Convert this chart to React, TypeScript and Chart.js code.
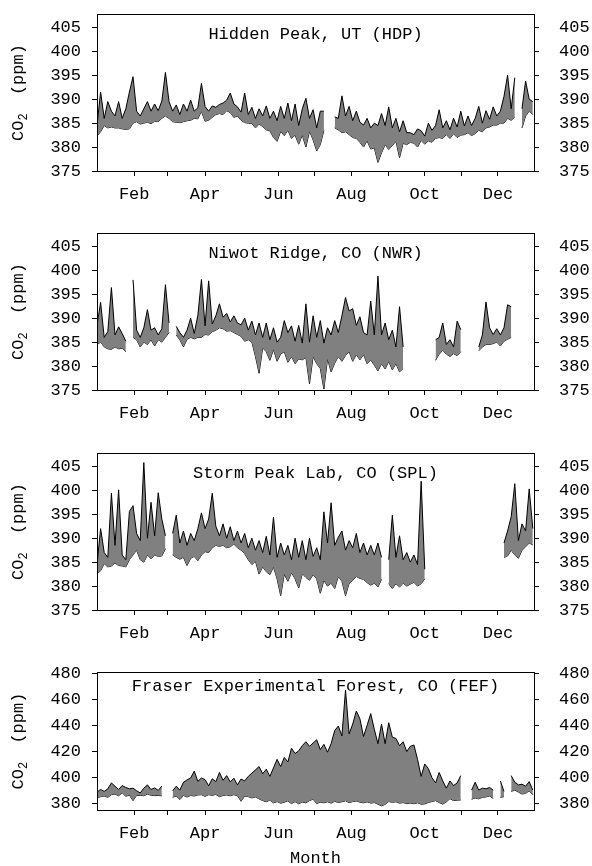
import React, { useEffect, useRef } from 'react';
import { Chart, registerables } from 'chart.js';

Chart.register(...registerables);

// ---- data (day of year, every 3 days) ----
const DAYS = [
  0, 3, 6, 9, 12, 15, 18, 21, 24, 27,
  30, 33, 36, 39, 42, 45, 48, 51, 54, 57,
  60, 63, 66, 69, 72, 75, 78, 81, 84, 87,
  90, 93, 96, 99, 102, 105, 108, 111, 114, 117,
  120, 123, 126, 129, 132, 135, 138, 141, 144, 147,
  150, 153, 156, 159, 162, 165, 168, 171, 174, 177,
  180, 183, 186, 189, 192, 195, 198, 201, 204, 207,
  210, 213, 216, 219, 222, 225, 228, 231, 234, 237,
  240, 243, 246, 249, 252, 255, 258, 261, 264, 267,
  270, 273, 276, 279, 282, 285, 288, 291, 294, 297,
  300, 303, 306, 309, 312, 315, 318, 321, 324, 327,
  330, 333, 336, 339, 342, 345, 348, 351, 354, 357,
  360, 363,
];

const MONTH_STARTS = [31, 59, 90, 120, 151, 181, 212, 243, 273, 304, 334];
const MONTH_LABELS = ['Feb', '', 'Apr', '', 'Jun', '', 'Aug', '', 'Oct', '', 'Dec'];

const HDP_MAX = [
  384.5, 391.5, 386, 389.5, 387.5, 386.5, 389.5, 386, 388, 391.5,
  394.7, 387.5, 386.5, 388, 389.5, 387.5, 389, 387.6, 389.6, 395.6,
  389.5, 387.5, 388.8, 386.8, 389, 387.5, 389.8, 387.5, 388.2, 393.3,
  388.5, 387.5, 388.6, 388.3, 388.9, 389.2, 389.8, 391.3, 389, 388.4,
  387.3, 391.3, 386.8, 388.3, 386, 388, 386.5, 388.6, 386, 387.5,
  385.5, 388.5, 386, 389.2, 385.5, 389, 384.5, 388, 390.2, 386,
  387.8, 384, 387.5, 387.5, null, null, 386.3, 386, 390.7, 386.5,
  388.5, 385.5, 387.5, 385.2, 384.6, 386, 384, 385, 384.5, 387,
  384.5, 388.4, 384, 386, 383.2, 385.5, 383, 383, 382.6, 383.8,
  383.4, 382.3, 385, 383.5, 384.5, 387.8, 384, 385.5, 383.6, 386,
  384.2, 387.5, 384.4, 386.5, 384.5, 386, 388.5, 385, 387.6, 385.8,
  388.4, 386.5, 387.5, 390.6, 395, 388, 394.5, null, 388, 393.8,
  390, 389.5,
];
const HDP_MIN = [
  382.3, 383.2, 384.5, 384, 384.2, 384, 384, 383.8, 383.7, 383.8,
  385, 385.3, 384.8, 385, 385.2, 384.9, 385.4, 385.3, 386, 386.5,
  386, 385.3, 385.2, 385.1, 385.3, 385.5, 385.6, 386, 385.9, 387.5,
  385.4, 385.6, 386.2, 386.8, 387, 386.8, 387.6, 387.2, 386.2, 386.5,
  385.6, 385.1, 385, 384.9, 384, 384.8, 384.3, 383.6, 383.4, 382,
  381.2, 383.3, 382.4, 383.5, 381.8, 382.5, 380.6, 382.5, 380, 383.3,
  381.5, 379.2, 380.5, 383.5, null, null, 384, 383.6, 383, 383.2,
  382.6, 382, 381.8, 381, 380, 381.3, 379.6, 379.8, 376.8, 378.8,
  380.5, 379.5, 380.3, 381.2, 377.8, 380.8, 380.5, 381, 380.8, 380,
  381.4, 380.6, 381.3, 381, 381.8, 382, 381.8, 382.6, 381.8, 382.8,
  382, 382.5, 382.6, 383, 382.4, 382.8, 383.5, 383.2, 384, 384.2,
  384.6, 384.6, 385, 385, 386, 385.6, 386.3, null, 384, 386.5,
  387.5, 386.8,
];

const NWR_MAX = [
  388.5, 393.3, 386, 387.2, 396.4, 386.5, 388.2, 386.8, 385.2, null,
  398, 387.5, 386, 388, 391.8, 387.5, 388, 386.5, 387.8, 397,
  389, null, 388.3, 387, 386, 387.5, 390, 386.8, 390.6, 398.1,
  388.4, 397.8, 388.8, 390.5, 393, 390.2, 391, 389.2, 390.5, 389,
  388.6, 390, 387.5, 389.4, 386.5, 389, 386, 389, 385.5, 388,
  385, 386, 389.5, 387, 388.4, 385.2, 388.5, 384.8, 393, 385,
  390.5, 386, 389.5, 384.8, 388, 386.5, 389.5, 387, 390.5, 394.3,
  391.5, 392, 388.5, 390.3, 387, 386.5, 393.6, 386.5, 398.8, 386.5,
  389, 385.5, 387.5, 384, 392.4, 384, null, null, null, null,
  null, null, null, null, 385.5, 386, 389, 384.5, 385.5, 384,
  389.4, 387.6, null, null, null, null, 384, 386.5, 393.4, 388,
  386.6, 387.8, 386.5, 388, 392.8, 392.4, null, null, null, null,
  null, null,
];
const NWR_MIN = [
  384.5, 385, 384, 383.6, 383.5, 384, 383.6, 383.7, 383, null,
  386, 385.5, 384, 385, 384.5, 385.5, 384.2, 385.5, 385, 386,
  387, null, 386.5, 385.5, 384, 385.6, 386, 385.7, 386, 386,
  386.6, 386.5, 387.2, 387.5, 388, 387.8, 387.3, 387.4, 387, 386.6,
  386.2, 385.2, 385.5, 385, 382, 378.5, 383.8, 383, 381.2, 383.5,
  381, 382.5, 383, 380.8, 382, 380.5, 381.5, 381.3, 381.8, 376.3,
  382, 380.5, 379.5, 375.2, 381.5, 378.8, 380.6, 382, 381, 382.2,
  383, 381, 382.4, 381.3, 382.4, 380.5, 381.3, 380.2, 379, 380.5,
  379.4, 381, 379.2, 380.5, 378.8, 379.5, null, null, null, null,
  null, null, null, null, 381.2, 382.5, 383.3, 382.5, 382, 382.6,
  382.2, 383, null, null, null, null, 383.2, 384, 384.5, 384.5,
  384.7, 385, 384.2, 385.2, 385.6, 386, null, null, null, null,
  null, null,
];

const SPL_MAX = [
  384.5, 392, 387, 386, 399.4, 388.5, 400.1, 386.5, 385.5, 395.6,
  396.8, 391, 389.5, 405.8, 390, 397.5, 390.5, 399.5, 394, 390.5,
  null, 391, 394.8, 389, 391.5, 388.5, 391, 389.5, 392, 395.3,
  392, 394, 399.4, 392.5, 390.5, 393, 390, 392.4, 389.5, 391.5,
  389, 391, 388, 390, 387.5, 389.5, 387, 390.4, 386.5, 394.4,
  386, 389, 386.5, 388.5, 385.5, 390, 386, 389.5, 385.5, 390,
  386.2, 388, 385.5, 395.5, 389, 397.4, 388.5, 390.2, 391.5, 387.5,
  389.5, 388, 391, 387, 389, 386.5, 388.5, 386.5, 389, 386,
  null, 385.5, 394.8, 386, 390.5, 385.5, 387, 385, 386.5, 384.5,
  401.9, 383.5, null, null, null, null, null, null, null, null,
  null, null, null, null, null, null, null, null, null, null,
  null, null, null, 389, 391.5, 394.5, 401.4, 389.5, 393, 391.5,
  400.3, 392,
];
const SPL_MIN = [
  382.6, 383.2, 384.7, 384, 384.2, 384.8, 384.3, 384.2, 384, 385.5,
  386.5, 387.5, 385.5, 385, 386.5, 385.7, 386.5, 386.2, 386.3, 387.8,
  null, 386.5, 386, 385.6, 386, 384.3, 385.8, 386.2, 385.3, 386.5,
  387.2, 387, 388, 388.5, 388.3, 388.5, 388, 388.2, 388.8, 388,
  387.5, 386.8, 385.5, 384.5, 385.2, 382.5, 384, 383, 382.4, 384,
  381.5, 378, 382.5, 381, 382.8, 381.5, 379.6, 382.6, 381.8, 381.2,
  382.4, 381.5, 378.5, 381.2, 380, 380.6, 379.5, 382, 381, 378,
  380.6, 381.2, 382, 381.6, 381.4, 380.7, 380.2, 380.6, 379.8, 381.4,
  null, 380.5, 379.5, 380.5, 379.8, 380.6, 380, 380.4, 380.8, 380,
  380.5, 381.5, null, null, null, null, null, null, null, null,
  null, null, null, null, null, null, null, null, null, null,
  null, null, null, 386, 386.3, 387.5, 386.5, 385.8, 387.5, 388.2,
  389, 388.6,
];

const FEF_MAX = [
  389, 391, 389.5, 391.5, 396, 393.5, 391, 394, 392.5, 391.5,
  392, 390, 388.3, 392, 394.5, 391, 392.2, 390.3, 393.6, null,
  null, 390, 393.5, 390.5, 396.5, 398.3, 399.8, 405, 397.2, 399.8,
  398.5, 393.8, 399.2, 397, 404, 398, 401.6, 396.8, 399.6, 394.5,
  399, 397.5, 401, 403.5, 406, 408.5, 403, 406.5, 401, 407.5,
  414, 408.5, 415.5, 412, 422.5, 418.5, 420.5, 424.5, 427.5, 424,
  426.5, 429, 421.5, 425.5, 419.5, 426, 436, 439.5, 432, 467,
  433.5, 441, 451, 445, 431.5, 440, 449, 437, 426, 441,
  426, 442, 431, 430, 424.5, 427.5, 420, 424, 425, 414,
  401, 410.5, 407, 400, 396, 404, 397.5, 392, 397.5, 394,
  396, 401.6, null, null, 390.5, 396.5, 390.5, 392, 391.5, 392.5,
  390.5, null, 397.5, 389.5, null, 401.6, 396.5, 394.5, 395, 393.5,
  397, 390.5,
];
const FEF_MIN = [
  384.5, 385.5, 386, 385, 387, 387.5, 386.2, 388.4, 385.8, 386.7,
  382.5, 386.5, 386.5, 386.2, 387.5, 386.6, 386.3, 386.5, 386.1, null,
  null, 385, 386, 383.3, 386.5, 385.2, 386.4, 386, 386.8, 387,
  385.7, 387, 386.5, 387.2, 385.5, 386.4, 386.8, 386.2, 387, 386.3,
  382, 386, 385.5, 384.5, 385.3, 383.8, 382.5, 381.6, 382.8, 380.8,
  381.7, 380.5, 381.2, 382.3, 380.2, 381.7, 380.1, 381.4, 380.8, 382.5,
  383.6, 380.2, 381.3, 380.8, 381.6, 380.5, 382, 381, 381.6, 382.3,
  381, 381.7, 382.2, 381.3, 380.8, 381.5, 380.6, 381, 379.7, 378.5,
  379.6, 381.8, 381.2, 381.6, 380.5, 381, 380.2, 380.6, 380.1, 380.8,
  379.7, 380, 381, 381.8, 382.5, 381, 379.8, 381.5, 384, 382.5,
  382.8, 383, null, null, 383.5, 384.5, 383.8, 385, 385.3, 386,
  384.2, null, 385, 385.5, null, 389.5, 390.5, 389, 387.5, 388,
  390, 387,
];

const TITLES = [
  'Hidden Peak, UT (HDP)',
  'Niwot Ridge, CO (NWR)',
  'Storm Peak Lab, CO (SPL)',
  'Fraser Experimental Forest, CO (FEF)',
];

// ---- layout / styles ----
const FONT = "'Liberation Mono', 'Courier New', monospace";
const W = 592;
const AREA_LEFT = 97;
const AREA_RIGHT = 534;

type Panel = {
  title: string;
  max: (number | null)[];
  min: (number | null)[];
  yMin: number;
  yMax: number;
  step: number;
  canvasTop: number;
  canvasH: number;
  padTop: number;
  areaH: number;
  titleOffset: number;
  xTitle: boolean;
};

const PANELS: Panel[] = [
  { title: TITLES[0], max: HDP_MAX, min: HDP_MIN, yMin: 375, yMax: 407.8, step: 5, canvasTop: 0, canvasH: 218, padTop: 14, areaH: 157, titleOffset: 20, xTitle: false },
  { title: TITLES[1], max: NWR_MAX, min: NWR_MIN, yMin: 375, yMax: 407.8, step: 5, canvasTop: 218, canvasH: 220, padTop: 15, areaH: 157, titleOffset: 20, xTitle: false },
  { title: TITLES[2], max: SPL_MAX, min: SPL_MIN, yMin: 375, yMax: 407.8, step: 5, canvasTop: 438, canvasH: 220, padTop: 15, areaH: 157, titleOffset: 20, xTitle: false },
  { title: TITLES[3], max: FEF_MAX, min: FEF_MIN, yMin: 375.3, yMax: 480.8, step: 20, canvasTop: 658, canvasH: 208, padTop: 14, areaH: 138, titleOffset: 14, xTitle: true },
];

function makeChart(canvas: HTMLCanvasElement, p: Panel) {
  const decor = {
    id: 'decor',
    afterDraw(chart: any) {
      const { ctx, chartArea: a } = chart;
      ctx.save();
      // frame
      ctx.strokeStyle = '#000';
      ctx.lineWidth = 1;
      ctx.strokeRect(a.left + 0.5, a.top + 0.5, a.right - a.left, a.bottom - a.top);
      // panel title
      ctx.fillStyle = '#000';
      ctx.font = `17px ${FONT}`;
      ctx.textAlign = 'center';
      ctx.textBaseline = 'middle';
      ctx.fillText(p.title, (a.left + a.right) / 2, a.top + p.titleOffset);
      // y title with subscript
      ctx.translate(18, (a.top + a.bottom) / 2);
      ctx.rotate(-Math.PI / 2);
      ctx.textAlign = 'left';
      ctx.font = `17px ${FONT}`;
      const w1 = ctx.measureText('CO').width;
      const w3 = ctx.measureText(' (ppm)').width;
      ctx.font = `12px ${FONT}`;
      const w2 = ctx.measureText('2').width;
      const gap = 8;
      let x = -(w1 + w2 + gap + w3) / 2;
      ctx.font = `17px ${FONT}`;
      ctx.fillText('CO', x, 0);
      x += w1;
      ctx.font = `12px ${FONT}`;
      ctx.fillText('2', x, 6);
      x += w2 + gap;
      ctx.font = `17px ${FONT}`;
      ctx.fillText(' (ppm)', x, 0);
      ctx.restore();
      if (p.xTitle) {
        ctx.save();
        ctx.fillStyle = '#000';
        ctx.font = `17px ${FONT}`;
        ctx.textAlign = 'center';
        ctx.textBaseline = 'middle';
        ctx.fillText('Month', (a.left + a.right) / 2, 858 - p.canvasTop);
        ctx.restore();
      }
    },
  };

  const grid = { drawOnChartArea: false, drawTicks: true, tickLength: 5, color: '#000', tickColor: '#000', lineWidth: 1 };
  const yTicks = (padding: number) => ({
    stepSize: p.step,
    includeBounds: false,
    padding,
    color: '#000',
    font: { family: FONT, size: 17 },
  });

  return new Chart(canvas, {
    type: 'line',
    data: {
      labels: DAYS,
      datasets: [
        { data: p.max, borderColor: '#000', borderWidth: 1, backgroundColor: '#808080', fill: '+1', pointRadius: 0, tension: 0, spanGaps: false },
        { data: p.min, borderColor: '#000', borderWidth: 1, fill: false, pointRadius: 0, tension: 0, spanGaps: false },
      ],
    },
    options: {
      animation: false,
      responsive: false,
      maintainAspectRatio: false,
      devicePixelRatio: 1,
      events: [],
      layout: { padding: { top: p.padTop, left: 0, right: 0, bottom: 0 }, autoPadding: false },
      plugins: { legend: { display: false }, tooltip: { enabled: false }, title: { display: false } },
      scales: {
        x: {
          type: 'linear',
          min: 0,
          max: 364,
          border: { display: false },
          grid,
          afterBuildTicks: (s: any) => {
            s.ticks = MONTH_STARTS.map((v) => ({ value: v }));
          },
          afterFit: (s: any) => {
            s.height = p.canvasH - p.padTop - p.areaH;
            s.paddingLeft = 0;
            s.paddingRight = 0;
          },
          ticks: {
            autoSkip: false,
            maxRotation: 0,
            minRotation: 0,
            padding: 8.5,
            color: '#000',
            font: { family: FONT, size: 17 },
            callback: (_v: any, i: number) => MONTH_LABELS[i],
          },
        },
        y: {
          type: 'linear',
          position: 'left',
          min: p.yMin,
          max: p.yMax,
          border: { display: false },
          grid,
          ticks: yTicks(11),
          afterFit: (s: any) => {
            s.width = AREA_LEFT;
            s.paddingTop = 0;
            s.paddingBottom = 0;
          },
        },
        y2: {
          type: 'linear',
          position: 'right',
          min: p.yMin,
          max: p.yMax,
          border: { display: false },
          grid,
          ticks: yTicks(20),
          afterFit: (s: any) => {
            s.width = W - AREA_RIGHT;
            s.paddingTop = 0;
            s.paddingBottom = 0;
          },
        },
      },
    } as any,
    plugins: [decor],
  });
}

export default function App() {
  const r0 = useRef<HTMLCanvasElement>(null);
  const r1 = useRef<HTMLCanvasElement>(null);
  const r2 = useRef<HTMLCanvasElement>(null);
  const r3 = useRef<HTMLCanvasElement>(null);
  const refs = [r0, r1, r2, r3];

  useEffect(() => {
    const charts = PANELS.map((p, i) => makeChart(refs[i].current as HTMLCanvasElement, p));
    return () => charts.forEach((c) => c.destroy());
  }, []);

  return (
    <div style={{ position: 'absolute', left: 0, top: 0, width: W, height: 866, background: '#fff' }}>
      {PANELS.map((p, i) => (
        <canvas
          key={i}
          ref={refs[i]}
          width={W}
          height={p.canvasH}
          style={{ position: 'absolute', left: 0, top: p.canvasTop, width: W, height: p.canvasH }}
        />
      ))}
    </div>
  );
}
